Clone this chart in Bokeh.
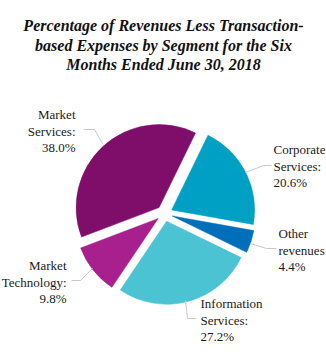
import math
from bokeh.plotting import figure
from bokeh.models import Range1d, ColumnDataSource
from bokeh.core.properties import value
from bokeh.embed import file_html
from bokeh.resources import INLINE

# Data (clockwise order starting at Corporate Services)
segments = ["Corporate Services", "Other revenues", "Information Services", "Market Technology", "Market Services"]
shares = [20.6, 4.4, 27.2, 9.8, 38.0]
label_lines = [
    ["Corporate", "Services:", "20.6%"],
    ["Other", "revenues", "4.4%"],
    ["Information", "Services:", "27.2%"],
    ["Market", "Technology:", "9.8%"],
    ["Market", "Services:", "38.0%"],
]
title_lines = ["Percentage of Revenues Less Transaction-",
               "based Expenses by Segment for the Six",
               "Months Ended June 30, 2018"]

colors = ["#00A0C4", "#006FBA", "#4BC3D3", "#A8208E", "#7E0E6A"]

W, H = 326, 358
def Y(py):
    return H - py

p = figure(width=W, height=H, output_backend="svg", toolbar_location=None,
           x_range=Range1d(0, W), y_range=Range1d(0, H), min_border=0)
p.axis.visible = False
p.grid.visible = False
p.outline_line_color = None
p.background_fill_color = "white"
p.border_fill_color = "white"

cx, cy, R, explode = 164, 213, 83, 8
start_cw = 26.0
total = sum(shares)
xs, ys, sa, ea = [], [], [], []
a = start_cw
for v in shares:
    sweep = v / total * 360.0
    a1, a2 = a, a + sweep
    mid = math.radians((a1 + a2) / 2)
    xs.append(cx + explode * math.sin(mid))
    ys.append(Y(cy) + explode * math.cos(mid))
    sa.append(math.radians(90 - a2))
    ea.append(math.radians(90 - a1))
    a = a2

src = ColumnDataSource(dict(x=xs, y=ys, sa=sa, ea=ea, color=colors))
p.wedge(x="x", y="y", radius=R, start_angle="sa", end_angle="ea",
        fill_color="color", line_color="color", line_width=0.5, source=src)

# leader lines (pixel coords)
leaders = [
    [(245, 172), (263, 165), (271, 165)],
    [(250, 243), (266, 248), (276, 248)],
    [(185, 300), (187, 318), (196, 318)],
    [(92, 268), (80, 280), (71, 280)],
    [(102, 143), (94, 129), (83, 129)],
]
p.multi_line(xs=[[pt[0] for pt in l] for l in leaders],
             ys=[[Y(pt[1]) for pt in l] for l in leaders],
             line_color="#C8C8C8", line_width=1)

# label placement: (x anchor, first line y, align)
placements = [(273, 149, "left"), (278, 233, "left"), (200, 303, "left"),
              (66, 265, "right"), (75, 114, "right")]
lx, ly, lt, la = [], [], [], []
for (x0, y0, al), lines in zip(placements, label_lines):
    for i, t in enumerate(lines):
        lx.append(x0); ly.append(Y(y0 + i * 16.5)); lt.append(t); la.append(al)
lsrc = ColumnDataSource(dict(x=lx, y=ly, text=lt, align=la))
p.text(x="x", y="y", text="text", text_align="align", text_baseline="middle",
       text_font=value("Liberation Serif"), text_font_size="13px",
       text_color="#1a1a1a", source=lsrc)

tsrc = ColumnDataSource(dict(x=[163] * 3, y=[Y(25), Y(45), Y(64)], text=title_lines))
p.text(x="x", y="y", text="text", text_align="center", text_baseline="middle",
       text_font=value("Liberation Serif"), text_font_size="16px",
       text_font_style="bold italic", text_color="#111111", source=tsrc)

open("out.html", "w").write(file_html(p, INLINE))
